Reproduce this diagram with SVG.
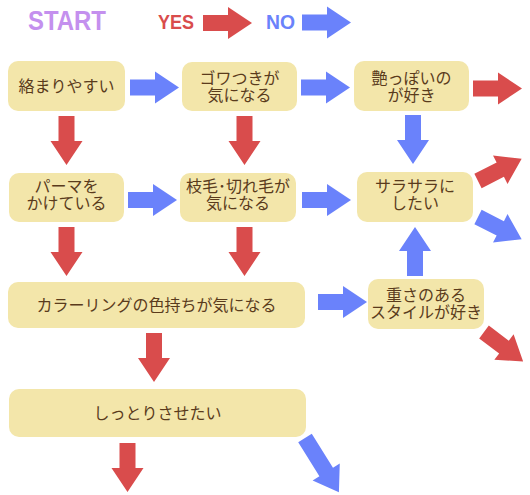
<svg xmlns="http://www.w3.org/2000/svg" xmlns:xlink="http://www.w3.org/1999/xlink" width="530" height="495" viewBox="0 0 530 495">
<style>
.node rect{fill:#f3e6aa}
.node text{font-family:"Noto Sans CJK JP","Noto Sans",sans-serif;font-size:16px;fill:#5a3b1c;text-anchor:middle}
.yes{fill:#d94c4c}
.no{fill:#6a82fb}
.hdr{font-family:"Liberation Sans",Arial,sans-serif;font-weight:bold}
</style>
<defs>
<path id="a" d="M0,-8H25V-16L49,0L25,16V8H0Z"/>
<path id="along" d="M0,-8H40V-16L64,0L40,16V8H0Z"/>
</defs>
<g id="legend">
<text class="hdr" x="28" y="30" font-size="27" textLength="78" lengthAdjust="spacingAndGlyphs" fill="#c490ee">START</text>
<text class="hdr" x="158" y="29" font-size="21" textLength="36" lengthAdjust="spacingAndGlyphs" fill="#d94c4c">YES</text>
<text class="hdr" x="266" y="29" font-size="21" textLength="29" lengthAdjust="spacingAndGlyphs" fill="#6a82fb">NO</text>
<use href="#a" class="yes" transform="translate(203,23)"/>
<use href="#a" class="no" transform="translate(302,22.5)"/>
</g>
<g id="n1" class="node"><rect x="8" y="61" width="117" height="50" rx="10"/><text x="66.5" y="92">絡まりやすい</text></g>
<g id="n2" class="node"><rect x="182" y="62" width="115" height="49" rx="10"/><text x="239.5" y="84">ゴワつきが</text><text x="239.5" y="101">気になる</text></g>
<g id="n3" class="node"><rect x="354" y="61" width="115" height="50" rx="10"/><text x="411.5" y="83.5">艶っぽいの</text><text x="411.5" y="100.5">が好き</text></g>
<g id="n4" class="node"><rect x="9" y="173" width="115" height="49" rx="10"/><text x="66.5" y="192">パーマを</text><text x="66.5" y="209">かけている</text></g>
<g id="n5" class="node"><rect x="180" y="173" width="116" height="49" rx="10"/><text x="238" y="192">枝毛･切れ毛が</text><text x="238" y="209">気になる</text></g>
<g id="n6" class="node"><rect x="357" y="172" width="116" height="50" rx="10"/><text x="415" y="191.5">サラサラに</text><text x="415" y="208.5">したい</text></g>
<g id="n7" class="node"><rect x="8" y="282" width="297" height="46" rx="10"/><text x="156.5" y="311">カラーリングの色持ちが気になる</text></g>
<g id="n8" class="node"><rect x="368" y="279" width="116" height="50" rx="10"/><text x="426" y="301">重さのある</text><text x="426" y="318">スタイルが好き</text></g>
<g id="n9" class="node"><rect x="9" y="389" width="297" height="48" rx="10"/><text x="157.5" y="419">しっとりさせたい</text></g>
<g id="connectors">
<use href="#a" class="no" transform="translate(130,87.5)"/>
<use href="#a" class="no" transform="translate(301,87.5)"/>
<use href="#a" class="yes" transform="translate(473,88.5)"/>
<use href="#a" class="yes" transform="translate(66.5,116) rotate(90)"/>
<use href="#a" class="yes" transform="translate(244.5,116) rotate(90)"/>
<use href="#a" class="no" transform="translate(413,115) rotate(90)"/>
<use href="#a" class="no" transform="translate(128,200)"/>
<use href="#a" class="no" transform="translate(302,200)"/>
<use href="#a" class="yes" transform="translate(66.5,227) rotate(90)"/>
<use href="#a" class="yes" transform="translate(244.5,227) rotate(90)"/>
<use href="#a" class="yes" transform="translate(478,181) rotate(-27)"/>
<use href="#a" class="no" transform="translate(478,217) rotate(27)"/>
<use href="#a" class="no" transform="translate(415,276) rotate(-90)"/>
<use href="#a" class="no" transform="translate(318,302)"/>
<use href="#a" class="yes" transform="translate(484,332) rotate(37)"/>
<use href="#a" class="yes" transform="translate(154,333) rotate(90)"/>
<use href="#a" class="yes" transform="translate(127.5,443) rotate(90)"/>
<use href="#along" class="no" transform="translate(305,438) rotate(58)"/>
</g>
</svg>
